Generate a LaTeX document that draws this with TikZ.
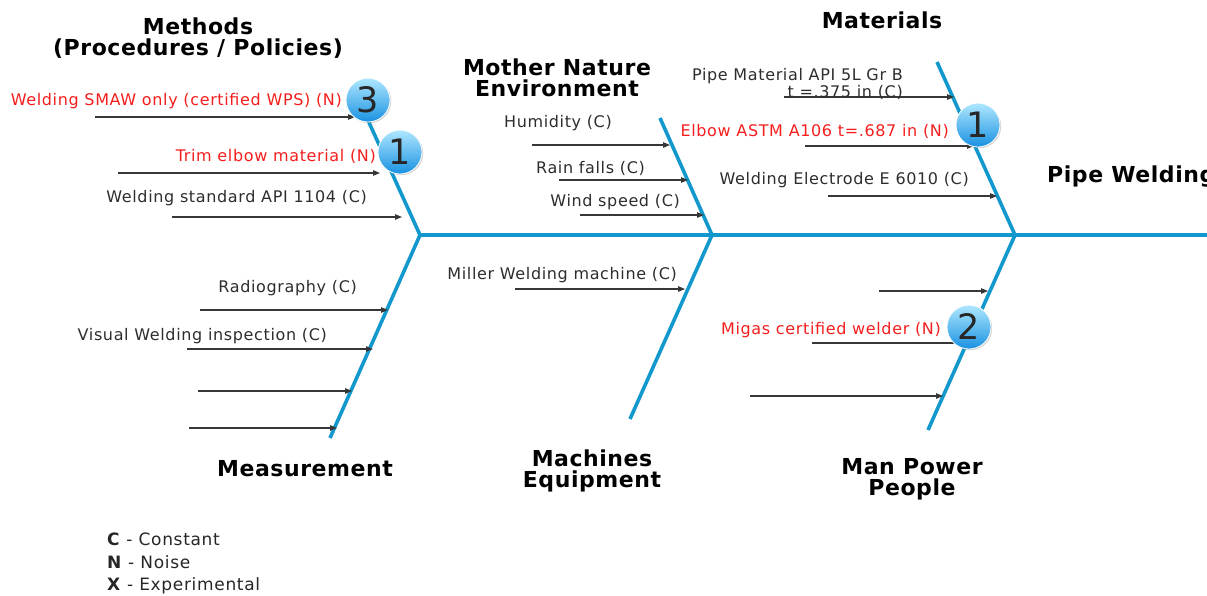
\documentclass[tikz,border=0pt]{standalone}
\usepackage{fontspec}
\setmainfont{DejaVu Sans}
\newfontfamily\lblfont[LetterSpace=4]{DejaVu Sans}
\newfontfamily\headfont[LetterSpace=2.5]{DejaVu Sans}
\usetikzlibrary{arrows.meta,shadows}
\definecolor{ribc}{RGB}{18,152,204}
\definecolor{lbl}{RGB}{45,45,45}
\definecolor{noise}{RGB}{245,30,30}
\definecolor{arr}{RGB}{55,55,55}
\definecolor{balltop}{RGB}{175,232,255}
\definecolor{ballbot}{RGB}{25,145,225}
\begin{document}
\begin{tikzpicture}[x=1pt,y=-1pt,
  rib/.style={draw=ribc, line width=3.6pt},
  cause/.style={draw=arr, line width=1.1pt, -{Triangle[length=7pt,width=5.5pt]}},
  plain/.style={draw=arr, line width=1.1pt},
  lab/.style={font=\lblfont\fontsize{16}{17}\selectfont, text=lbl, inner sep=0pt, yshift=-1.5pt},
  nlab/.style={lab, text=noise},
  head/.style={font=\headfont\fontsize{22}{21}\selectfont\bfseries, text=black, inner sep=0pt, align=center},
  badge/.style={circle, minimum size=44pt, inner sep=0pt, draw=white, line width=0.8pt,
    top color=balltop, bottom color=ballbot, text=black!85,
    font=\fontsize{35}{35}\selectfont,
    drop shadow={opacity=0.35, shadow xshift=1.2pt, shadow yshift=-1.2pt}}]
\useasboundingbox (0,0) rectangle (1207,595);

% spine and ribs
\coordinate (JA) at (420,235);
\coordinate (JB) at (712,235);
\coordinate (JC) at (1015,235);
\coordinate (SE) at (1212,235);
\coordinate (MethTop) at (362,107);
\coordinate (MeasBot) at (330,438);
\coordinate (NatTop) at (660,118);
\coordinate (MachBot) at (630,419);
\coordinate (MatTop) at (937,62);
\coordinate (ManBot) at (928,430);
\draw[rib] (JA) -- (SE);
\draw[rib] (MethTop) -- (JA) -- (MeasBot);
\draw[rib] (NatTop) -- (JB) -- (MachBot);
\draw[rib] (MatTop) -- (JC) -- (ManBot);

% headings
\node[head] (hMeth) at (198,38.5) {Methods\\(Procedures / Policies)};
\node[head] (hNat) at (557,78) {Mother Nature\\Environment};
\node[head] (hMat) at (882,20) {Materials};
\node[head, anchor=west] (hPipe) at (1047,177) {Pipe Welding};
\node[head] (hMeas) at (305,469) {Measurement};
\node[head] (hMach) at (592,471) {Machines\\Equipment};
\node[head] (hMan) at (912,479) {Man Power\\People};

% Methods causes
\coordinate (m1s) at (95,117);  \coordinate (m1e) at (355,117);
\coordinate (m2s) at (118,173); \coordinate (m2e) at (380,173);
\coordinate (m3s) at (172,217); \coordinate (m3e) at (402,217);
\draw[cause] (m1s) -- (m1e);
\draw[cause] (m2s) -- (m2e);
\draw[cause] (m3s) -- (m3e);
\node[nlab, anchor=east] (tm1) at (342,100) {Welding SMAW only (certified WPS) (N)};
\node[nlab, anchor=east] (tm2) at (376,155) {Trim elbow material (N)};
\node[lab, anchor=east] (tm3) at (367,197) {Welding standard API 1104 (C)};

% Measurement causes
\coordinate (q1s) at (200,310); \coordinate (q1e) at (388,310);
\coordinate (q2s) at (187,349); \coordinate (q2e) at (373,349);
\coordinate (q3s) at (198,391); \coordinate (q3e) at (352,391);
\coordinate (q4s) at (189,428); \coordinate (q4e) at (337,428);
\draw[cause] (q1s) -- (q1e);
\draw[cause] (q2s) -- (q2e);
\draw[cause] (q3s) -- (q3e);
\draw[cause] (q4s) -- (q4e);
\node[lab, anchor=east] (tq1) at (357,287) {Radiography (C)};
\node[lab, anchor=east] (tq2) at (327,335) {Visual Welding inspection (C)};

% Mother Nature causes
\coordinate (n1s) at (532,145); \coordinate (n1e) at (670,145);
\coordinate (n2s) at (559,180); \coordinate (n2e) at (688,180);
\coordinate (n3s) at (580,215); \coordinate (n3e) at (704,215);
\draw[cause] (n1s) -- (n1e);
\draw[cause] (n2s) -- (n2e);
\draw[cause] (n3s) -- (n3e);
\node[lab, anchor=east] (tn1) at (612,122) {Humidity (C)};
\node[lab, anchor=east] (tn2) at (645,167) {Rain falls (C)};
\node[lab, anchor=east] (tn3) at (680,201) {Wind speed (C)};

% Machines causes
\coordinate (k1s) at (515,289); \coordinate (k1e) at (685,289);
\draw[cause] (k1s) -- (k1e);
\node[lab, anchor=east] (tk1) at (677,274) {Miller Welding machine (C)};

% Materials causes
\coordinate (a1s) at (784,97);  \coordinate (a1e) at (954,97);
\coordinate (a2s) at (805,146); \coordinate (a2e) at (974,146);
\coordinate (a3s) at (828,196); \coordinate (a3e) at (997,196);
\draw[cause] (a1s) -- (a1e);
\draw[cause] (a2s) -- (a2e);
\draw[cause] (a3s) -- (a3e);
\node[lab, anchor=east, align=right] (ta1) at (903,82) {Pipe Material API 5L Gr B\\t =.375 in (C)};
\node[nlab, anchor=east] (ta2) at (949,130) {Elbow ASTM A106 t=.687 in (N)};
\node[lab, anchor=east] (ta3) at (969,179) {Welding Electrode E 6010 (C)};

% Man Power causes
\coordinate (p1s) at (879,291); \coordinate (p1e) at (988,291);
\coordinate (p2s) at (812,343); \coordinate (p2e) at (960,343);
\coordinate (p3s) at (750,396); \coordinate (p3e) at (943,396);
\draw[cause] (p1s) -- (p1e);
\draw[plain] (p2s) -- (p2e);
\draw[cause] (p3s) -- (p3e);
\node[nlab, anchor=east] (tp2) at (941,329) {Migas certified welder (N)};

% badges
\node[badge] (b3) at (368,100) {3};
\node[badge] (b1a) at (400,152) {1};
\node[badge] (b1b) at (978,125) {1};
\node[badge] (b2) at (969,327) {2};

% legend
\node[font=\lblfont\fontsize{17}{22.5}\selectfont, text=black!85, anchor=north west, align=left, inner sep=0pt] (legend) at (107,533)
  {\textbf{C} - Constant\\\textbf{N} -  Noise\\\textbf{X} - Experimental};
\end{tikzpicture}
\end{document}
